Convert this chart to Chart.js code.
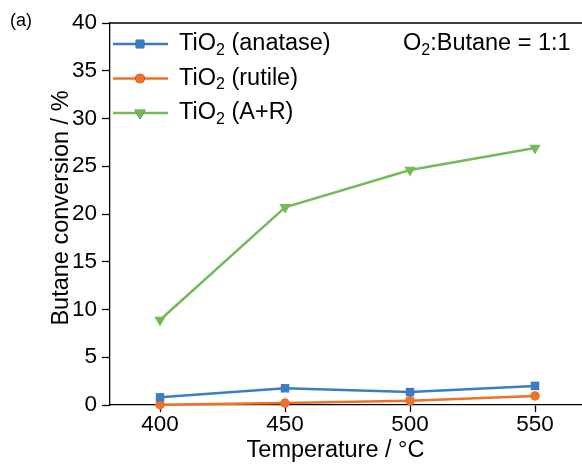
<!DOCTYPE html>
<html>
<head>
<meta charset="utf-8">
<script src="https://cdn.jsdelivr.net/npm/chart.js@4"></script>
<style>
  html, body { margin: 0; padding: 0; overflow: hidden; background: #fff; }
  #wrap { width: 592px; height: 467px; }
</style>
</head>
<body>
<div id="wrap"><canvas id="myChart"></canvas></div>
<script>
// temperatures (°C)
const temps = [400, 450, 500, 550];
const xTicks = [400, 450, 500, 550];
// butane conversion (%)
const anatase = [0.8, 1.75, 1.35, 2.0];
const rutile = [0.03, 0.2, 0.45, 0.95];
const mixed = [8.9, 20.7, 24.6, 26.9];

const seriesNames = [['TiO', '2', ' (anatase)'], ['TiO', '2', ' (rutile)'], ['TiO', '2', ' (A+R)']];
const FONT = '"Liberation Sans", Arial, sans-serif';

function pts(vals) { return temps.map((t, i) => ({ x: t, y: vals[i] })) }

// draw text with a subscript part: [before, sub, after]
function subText(ctx, parts, x, y, size) {
  ctx.font = size + 'px ' + FONT;
  ctx.fillText(parts[0], x, y);
  x += ctx.measureText(parts[0]).width;
  ctx.font = Math.round(size * 0.7) + 'px ' + FONT;
  ctx.fillText(parts[1], x, y + size * 0.28);
  x += ctx.measureText(parts[1]).width;
  ctx.font = size + 'px ' + FONT;
  ctx.fillText(parts[2], x, y);
}

const extras = {
  id: 'extras',
  afterDraw(chart) {
    const ctx = chart.ctx;
    const a = chart.chartArea;
    ctx.save();
    // frame top
    ctx.strokeStyle = '#000';
    ctx.lineWidth = 1.3;
    ctx.beginPath();
    ctx.moveTo(a.left, a.top);
    ctx.lineTo(a.right, a.top);
    ctx.stroke();

    // legend
    ctx.fillStyle = '#000';
    ctx.textBaseline = 'middle';
    ctx.textAlign = 'left';
    const rows = [44, 78.5, 113];
    chart.data.datasets.forEach((ds, i) => {
      const y = rows[i];
      ctx.strokeStyle = ds.borderColor;
      ctx.lineWidth = ds.borderWidth;
      ctx.beginPath();
      ctx.moveTo(113, y);
      ctx.lineTo(168, y);
      ctx.stroke();
      Chart.helpers.drawPoint(ctx, {
        pointStyle: ds.pointStyle, rotation: ds.pointRotation || 0,
        radius: ds.pointRadius, borderWidth: 0
      }, 140, y);
      ctx.fillStyle = ds.borderColor;
      ctx.fill();
      ctx.fillStyle = '#000';
      subText(ctx, seriesNames[i], 179, y, 23.5);
    });
    subText(ctx, ['O', '2', ':Butane = 1:1'], 403, 44, 23.5);

    // axis titles
    ctx.textBaseline = 'alphabetic';
    ctx.textAlign = 'center';
    ctx.font = '23.5px ' + FONT;
    ctx.fillText('Temperature / °C', 335.5, 457);
    ctx.save();
    ctx.translate(68, 208);
    ctx.rotate(-Math.PI / 2);
    ctx.fillText('Butane conversion / %', 0, 0);
    ctx.restore();

    // panel label
    ctx.textAlign = 'left';
    ctx.textBaseline = 'middle';
    ctx.font = '18px ' + FONT;
    ctx.fillText('(a)', 10, 21);
    ctx.restore();
  }
};

const ctx = document.getElementById('myChart');
new Chart(ctx, {
  type: 'line',
  data: {
    datasets: [{
      label: 'TiO2 (anatase)',
      data: pts(anatase),
      borderColor: '#3b7dc4',
      backgroundColor: '#3b7dc4',
      pointStyle: 'rect',
      pointRadius: 6
    }, {
      label: 'TiO2 (rutile)',
      data: pts(rutile),
      borderColor: '#f07028',
      backgroundColor: '#f07028',
      pointStyle: 'circle',
      pointRadius: 4.8
    }, {
      label: 'TiO2 (A+R)',
      data: pts(mixed),
      borderColor: '#76b95a',
      backgroundColor: '#76b95a',
      pointStyle: 'triangle',
      pointRotation: 180,
      pointRadius: 6.5
    }].map(d => Object.assign({ borderWidth: 2.5, pointBorderWidth: 0, pointHoverRadius: d.pointRadius, tension: 0, clip: false }, d))
  },
  options: {
    responsive: true,
    maintainAspectRatio: false,
    animation: false,
    events: [],
    layout: { padding: { top: 23, right: 7, left: 0, bottom: 0 } },
    plugins: { legend: { display: false }, tooltip: { enabled: false } },
    scales: {
      x: {
        type: 'linear',
        min: 380, max: 570,
        afterBuildTicks: s => { s.ticks = xTicks.map(v => ({ value: v })) },
        afterFit: s => { s.height = 62 },
        grid: { display: true, drawOnChartArea: false, drawTicks: true, tickLength: 7, tickWidth: 1.3, color: '#000' },
        border: { display: true, color: '#000', width: 1.3 },
        ticks: { color: '#000', font: { family: FONT, size: 22.5 }, padding: -1, maxRotation: 0 },
        title: { display: false }
      },
      y: {
        min: 0, max: 40,
        ticks: { stepSize: 5, color: '#000', font: { family: FONT, size: 22.5 }, padding: 5 },
        afterFit: s => { s.width = 110 },
        grid: { display: true, drawOnChartArea: false, drawTicks: true, tickLength: 8, tickWidth: 1.3, color: '#000' },
        border: { display: true, color: '#000', width: 1.3 },
        title: { display: false }
      }
    }
  },
  plugins: [extras]
});
</script>
</body>
</html>
